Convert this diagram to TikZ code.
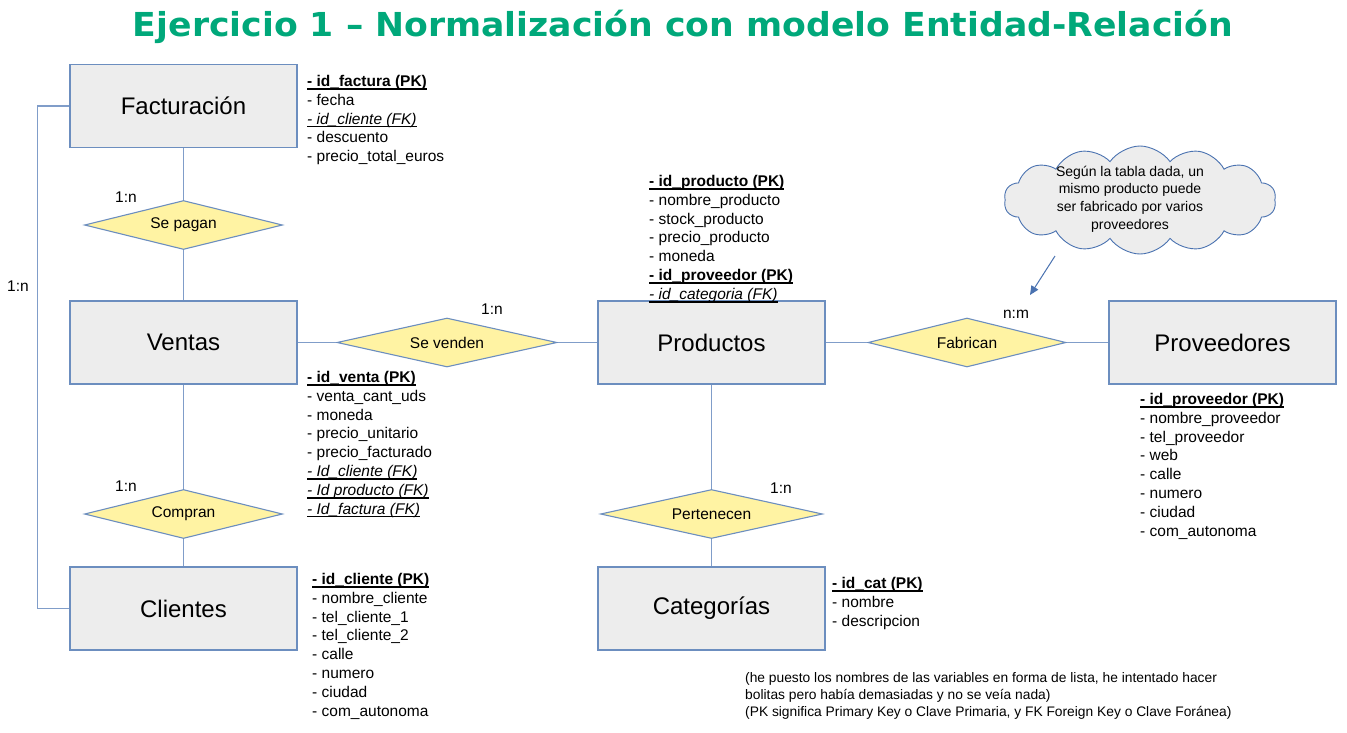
\documentclass[tikz,border=0pt]{standalone}
\usepackage{fontspec}
\setmainfont{Liberation Sans}
\newfontfamily\titlefont{DejaVu Sans}
\usepackage{graphicx}
\usetikzlibrary{shapes.geometric,shapes.symbols,arrows.meta}
\definecolor{titlegreen}{RGB}{0,168,122}
\definecolor{boxfill}{RGB}{237,237,237}
\definecolor{boxline}{RGB}{108,142,191}
\definecolor{diafill}{RGB}{255,243,163}
\definecolor{connline}{RGB}{128,157,201}
\definecolor{cloudline}{RGB}{74,114,176}
\newsavebox{\myulbox}
\newcommand{\myul}[1]{\sbox{\myulbox}{#1}\rlap{\rule[-3.4pt]{\wd\myulbox}{1.6pt}}\usebox{\myulbox}}
\newcommand{\pkline}[1]{{\bfseries\myul{#1}}}
\newcommand{\fkline}[1]{{\itshape\myul{#1}}}
\tikzset{
  entity/.style={draw=boxline, line width=1.2pt, fill=boxfill, minimum width=227pt, minimum height=83pt, inner sep=0pt, font=\fontsize{24}{28}\selectfont},
  relation/.style={diamond, draw=boxline, line width=1.1pt, fill=diafill, aspect=4, minimum height=49pt, inner sep=0pt, font=\fontsize{15.5}{18}\selectfont},
  conn/.style={draw=connline, line width=1.5pt},
  attrs/.style={anchor=north west, align=left, inner sep=0pt, font=\fontsize{15.5}{18.8}\selectfont},
  card/.style={inner sep=0pt, font=\fontsize{15.5}{18}\selectfont},
  notetext/.style={anchor=north west, align=left, inner sep=0pt, font=\fontsize{13.8}{17}\selectfont}
}
\begin{document}
\begin{tikzpicture}[x=1pt,y=-1pt]
\useasboundingbox (0,0) rectangle (1347,732);

% title
\node[anchor=base, inner sep=0pt, text=titlegreen, font=\fontsize{33}{36}\titlefont\bfseries] (title) at (683,36)
  {\resizebox{1100pt}{\height}{Ejercicio 1 – Normalización con modelo Entidad-Relación}};

% entities
\node[entity] (fact) at (183.5,106) {Facturación};
\node[entity] (ventas) at (183.5,342.5) {Ventas};
\node[entity] (clientes) at (183.5,608.5) {Clientes};
\node[entity] (productos) at (711.5,342.5) {Productos};
\node[entity] (proveedores) at (1222.5,342.5) {Proveedores};
\node[entity] (categorias) at (711.5,608.5) {Categorías};

% relations
\node[relation, minimum width=198pt] (sepagan) at (183.5,225) {Se pagan};
\node[relation, minimum width=198pt] (compran) at (183.5,514) {Compran};
\node[relation, minimum width=220pt] (sevenden) at (447,342.5) {Se venden};
\node[relation, minimum width=198pt] (fabrican) at (967,342.5) {Fabrican};
\node[relation, minimum width=222pt] (pertenecen) at (711.5,514) {Pertenecen};

% connectors
\draw[conn] (fact) -- (sepagan) -- (ventas);
\draw[conn] (ventas) -- (compran) -- (clientes);
\draw[conn] (ventas) -- (sevenden) -- (productos);
\draw[conn] (productos) -- (fabrican) -- (proveedores);
\draw[conn] (productos) -- (pertenecen) -- (categorias);
\draw[conn] (fact.west) -- ++(-32,0) |- (clientes.west);

% cardinalities
\node[card] (c1) at (126,197) {1:n};
\node[card] (c2) at (126,486) {1:n};
\node[card] (c3) at (18,286) {1:n};
\node[card] (c4) at (492,309) {1:n};
\node[card] (c5) at (1016,314) {n:m};
\node[card] (c6) at (781,488) {1:n};

% attributes
\node[attrs] (afact) at (307,75) {\pkline{- id\_factura (PK)}\\- fecha\\\fkline{- id\_cliente (FK)}\\- descuento\\- precio\_total\_euros};
\node[attrs] (aprod) at (649,175) {\pkline{- id\_producto (PK)}\\- nombre\_producto\\- stock\_producto\\- precio\_producto\\- moneda\\\pkline{- id\_proveedor (PK)}\\\fkline{- id\_categoria (FK)}};
\node[attrs] (avent) at (307,371) {\pkline{- id\_venta (PK)}\\- venta\_cant\_uds\\- moneda\\- precio\_unitario\\- precio\_facturado\\\fkline{- Id\_cliente (FK)}\\\fkline{- Id producto (FK)}\\\fkline{- Id\_factura (FK)}};
\node[attrs] (aprov) at (1140,393) {\pkline{- id\_proveedor (PK)}\\- nombre\_proveedor\\- tel\_proveedor\\- web\\- calle\\- numero\\- ciudad\\- com\_autonoma};
\node[attrs] (aclie) at (312,573) {\pkline{- id\_cliente (PK)}\\- nombre\_cliente\\- tel\_cliente\_1\\- tel\_cliente\_2\\- calle\\- numero\\- ciudad\\- com\_autonoma};
\node[attrs] (acat) at (832,577) {\pkline{- id\_cat (PK)}\\- nombre\\- descripcion};

% cloud note
\node[cloud, cloud puffs=14, cloud puff arc=110, cloud ignores aspect, draw=cloudline, line width=0.9pt, fill=boxfill, minimum width=272pt, minimum height=108pt, inner sep=0pt] (cloudnote) at (1140,200) {};
\node[align=center, inner sep=0pt, font=\fontsize{14}{17.8}\selectfont] (cloudtext) at (1130,199)
  {Según la tabla dada, un\\mismo producto puede\\ser fabricado por varios\\proveedores};
\coordinate (arrs) at (1055,256);
\coordinate (arre) at (1030,295);
\draw[draw=cloudline, line width=1pt, -{Triangle[length=9pt,width=8pt]}] (arrs) -- (arre);

% bottom note
\node[notetext] (note) at (745,672) {(he puesto los nombres de las variables en forma de lista, he intentado hacer\\bolitas pero había demasiadas y no se veía nada)\\(PK significa Primary Key o Clave Primaria, y FK Foreign Key o Clave Foránea)};
\end{tikzpicture}
\end{document}
